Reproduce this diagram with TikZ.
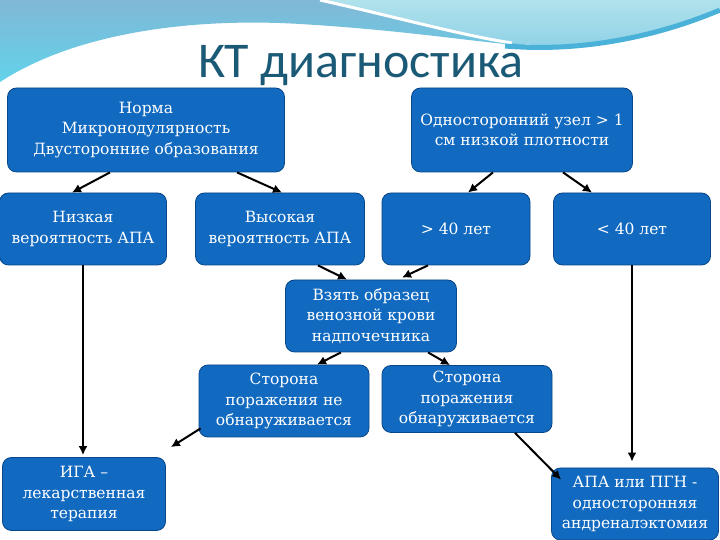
\documentclass[tikz,border=0pt]{standalone}
\usepackage{fontspec}
\setmainfont{DejaVu Serif}
\newfontfamily\titlefont{Carlito}
\usetikzlibrary{arrows,arrows.meta,shapes.misc,positioning}
\definecolor{boxblue}{RGB}{18,106,192}
\definecolor{boxedge}{RGB}{8,70,138}
\definecolor{titleteal}{RGB}{27,90,118}
\definecolor{wavesteel}{RGB}{128,184,214}
\definecolor{wavecyan}{RGB}{98,210,234}
\definecolor{wavelight}{RGB}{176,226,236}
\definecolor{wavemid}{RGB}{140,208,230}
\definecolor{wavedark}{RGB}{74,178,216}
\tikzset{
  stage/.style={
    % The shape:
    rectangle,
    rounded corners=9pt,
    % The border:
    draw=boxedge, line width=0.8pt,
    % The filling:
    fill=boxblue,
    % Font
    text=white, align=center, inner sep=0pt,
    font=\fontsize{15.5}{20.5}\selectfont
  },
  small stage/.style={stage, minimum height=72pt}
}
\tikzstyle{line} = [draw, line width=2pt, -{Latex[length=9pt,width=9pt]}]

\begin{document}
\begin{tikzpicture}[x=1pt,y=1pt]
\useasboundingbox (0,0) rectangle (720,540);
\fill[white] (0,0) rectangle (720,540);
% wave at the top
\shade[top color=wavesteel, bottom color=wavecyan]
  (0,540) -- (0,458) .. controls (80,510) and (200,522) .. (300,516)
  .. controls (400,510) and (460,500) .. (525,494) -- (525,540) -- cycle;
\shade[top color=wavelight, bottom color=wavemid]
  (320,540) .. controls (400,522) and (460,505) .. (520,496)
  .. controls (600,488) and (680,515) .. (720,532) -- (720,540) -- cycle;
\draw[white, line width=3pt] (320,540) .. controls (400,522) and (460,505) .. (512,497);
\draw[wavedark, line width=5pt] (505,494) .. controls (600,486) and (680,513) .. (720,530);
% title
\node[anchor=base, text=titleteal, font=\titlefont\fontsize{50}{60}\selectfont] (title) at (361,462) {КТ диагностика};
% boxes
\node[stage, minimum width=277pt, minimum height=84pt] (norma) at (146,410) {Норма\\Микронодулярность\\Двусторонние образования};
\node[stage, minimum width=221pt, minimum height=84pt] (odno) at (522,410) {Односторонний узел > 1\\см низкой плотности};
\node[small stage, minimum width=167pt] (nizk) at (83,311) {Низкая\\вероятность АПА};
\node[small stage, minimum width=169pt] (vys) at (280,311) {Высокая\\вероятность АПА};
\node[small stage, minimum width=148pt] (older) at (456,311) {> 40 лет};
\node[small stage, minimum width=157pt] (younger) at (632,311) {< 40 лет};
\node[small stage, minimum width=171pt] (vzyat) at (371,224) {Взять образец\\венозной крови\\надпочечника};
\node[small stage, minimum width=170pt] (notfound) at (284,139) {Сторона\\поражения не\\обнаруживается};
\node[stage, minimum width=170pt, minimum height=67pt] (found) at (467,141) {Сторона\\поражения\\обнаруживается};
\node[stage, minimum width=163pt, minimum height=73pt] (iga) at (84,46) {ИГА –\\лекарственная\\терапия};
\node[small stage, minimum width=167pt] (apa) at (635,36) {АПА или ПГН -\\односторонняя\\андреналэктомия};
% Draw edges
\path [line] ([xshift=-36pt]norma.south) -- ([xshift=-11pt]nizk.north);
\path [line] ([xshift=91pt]norma.south) -- ([xshift=2pt]vys.north);
\path [line] ([xshift=-29pt]odno.south) -- ([xshift=12pt]older.north);
\path [line] ([xshift=41pt]odno.south) -- ([xshift=-40pt]younger.north);
\path [line] (nizk.south) -- ([yshift=2pt]nizk.south |- iga.north);
\path [line] ([xshift=38pt]vys.south) -- ([xshift=-24pt]vzyat.north);
\path [line] ([xshift=-28pt]older.south) -- ([xshift=31pt,yshift=2pt]vzyat.north);
\path [line] ([xshift=-30pt]vzyat.south) -- ([xshift=33pt]notfound.north);
\path [line] ([xshift=57pt]vzyat.south) -- ([xshift=-17pt]found.north);
\path [line] ([shift={(2pt,9pt)}]notfound.south west) -- ([shift={(5pt,10pt)}]iga.north east);
\path [line] ([xshift=48pt]found.south) -- ([shift={(10pt,-12pt)}]apa.north west);
\path [line] (younger.south) -- ([yshift=6pt]younger.south |- apa.north);
\end{tikzpicture}
\end{document}
